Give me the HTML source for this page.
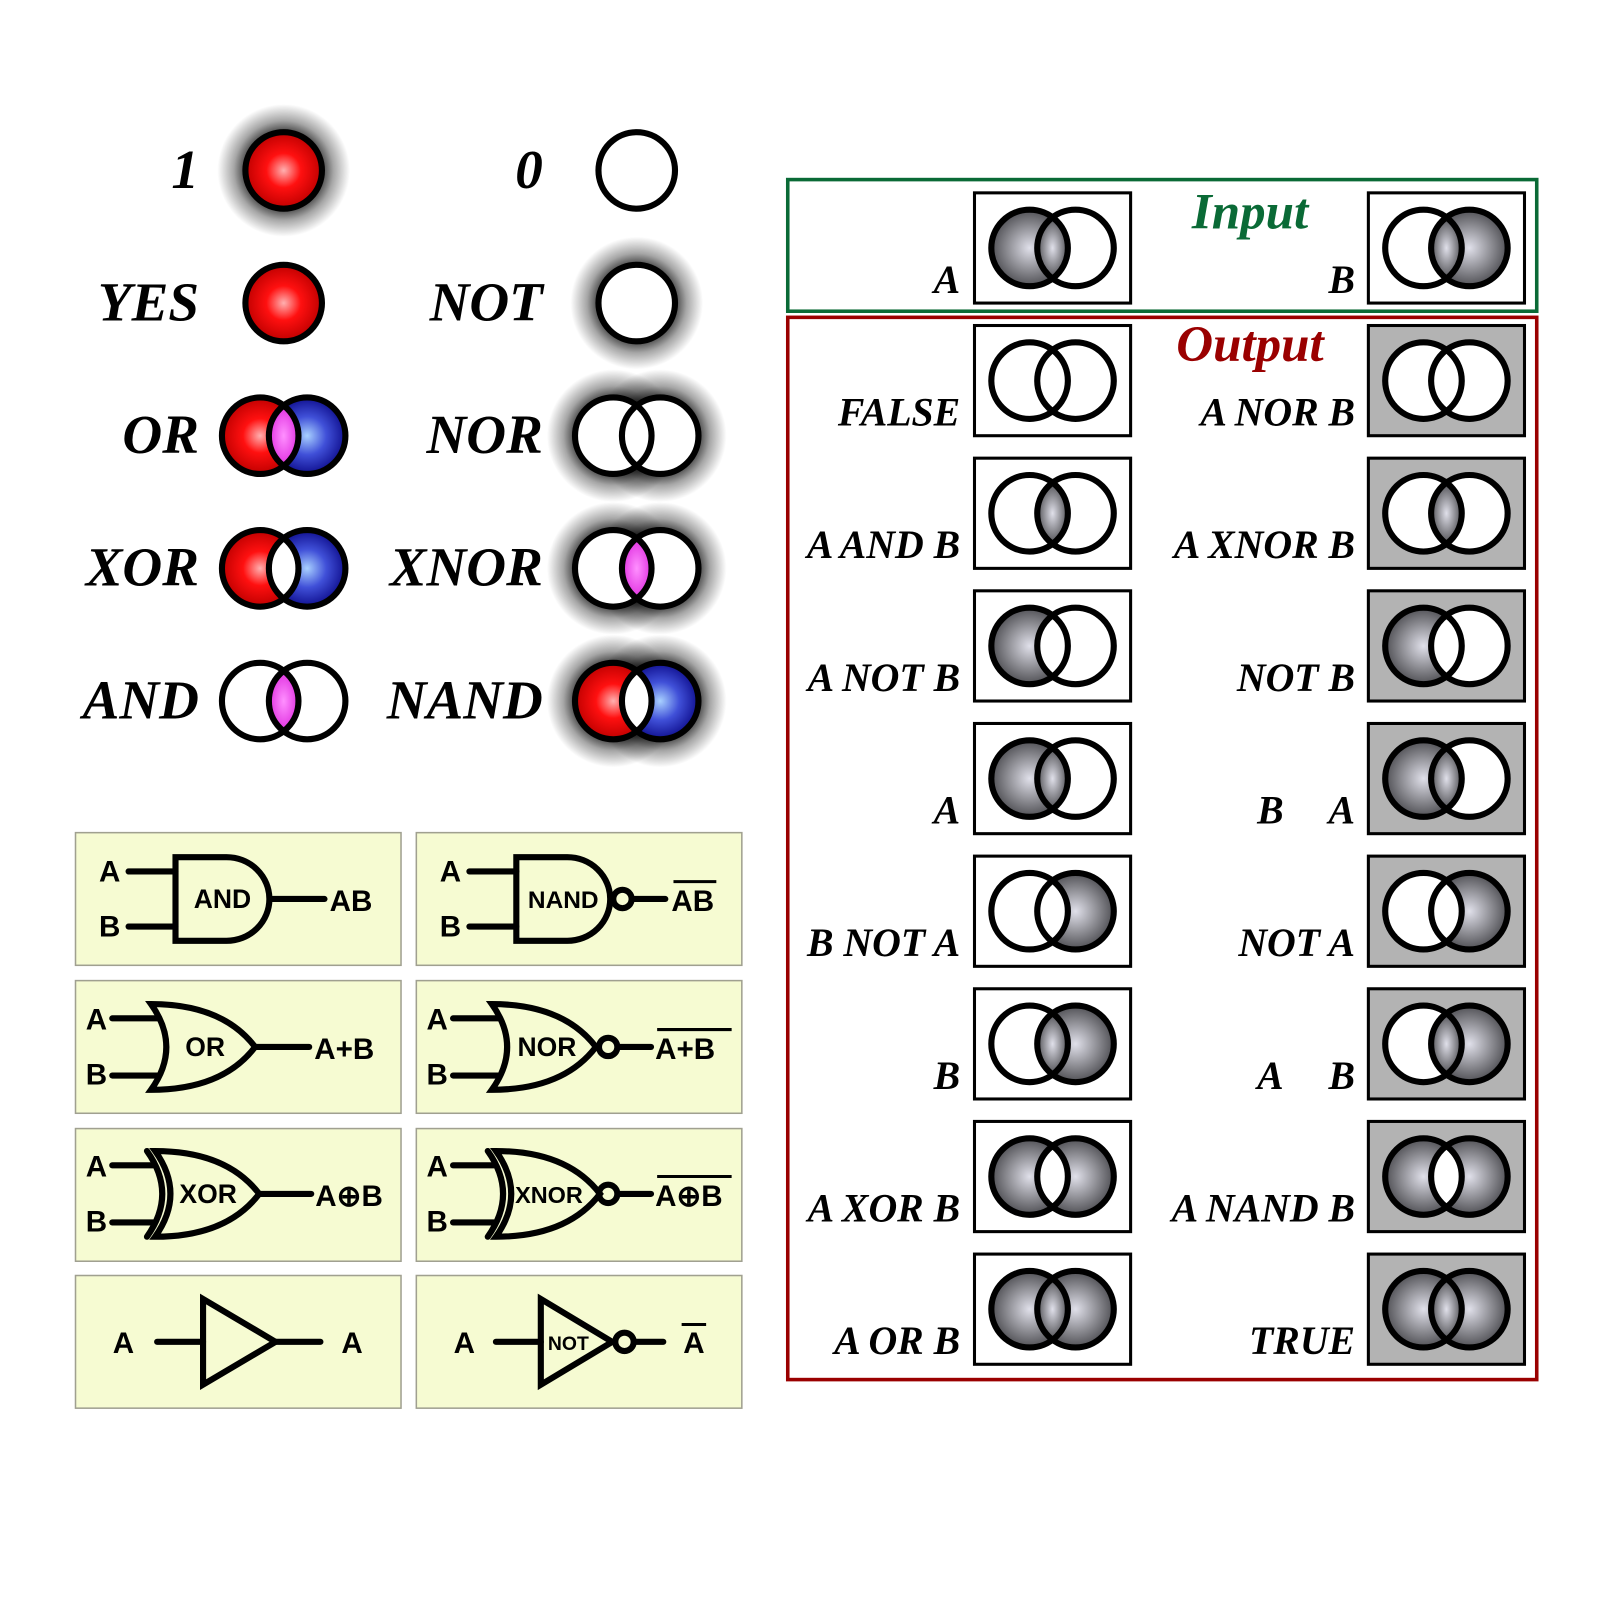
<!DOCTYPE html>
<html><head><meta charset="utf-8"><style>
html,body{margin:0;padding:0;background:#fff;}
svg{display:block;}
.lbl{font-family:"Liberation Serif",serif;font-weight:bold;font-style:italic;}
.g{font-family:"Liberation Sans",sans-serif;font-weight:bold;}
</style></head><body>
<svg id="s" xmlns="http://www.w3.org/2000/svg" width="1600" height="1600" viewBox="0 0 1568 1568">
<defs>
<radialGradient id="red" cx="0.5" cy="0.5" r="0.5"><stop offset="0" stop-color="#ffb0b0"/><stop offset="0.45" stop-color="#ff1010"/><stop offset="1" stop-color="#c00000"/></radialGradient>
<radialGradient id="blue" cx="0.5" cy="0.5" r="0.5"><stop offset="0" stop-color="#a8d0ff"/><stop offset="0.5" stop-color="#4050d8"/><stop offset="1" stop-color="#101090"/></radialGradient>
<radialGradient id="mag" cx="0.5" cy="0.5" r="0.5"><stop offset="0" stop-color="#ff90ff"/><stop offset="1" stop-color="#e030e0"/></radialGradient>
<radialGradient id="gray" cx="0.5" cy="0.5" r="0.5"><stop offset="0" stop-color="#e0e0ea"/><stop offset="0.6" stop-color="#8a8a90"/><stop offset="1" stop-color="#505055"/></radialGradient>
<radialGradient id="glow" cx="0.5" cy="0.5" r="0.5"><stop offset="0.55" stop-color="#000" stop-opacity="0.8"/><stop offset="0.75" stop-color="#000" stop-opacity="0.35"/><stop offset="1" stop-color="#000" stop-opacity="0"/></radialGradient>
</defs>
<g id="root"></g>
</svg>
<script>
var o='';
function circ(cx,cy,r,fill,sw){return '<circle cx="'+cx+'" cy="'+cy+'" r="'+r+'" fill="'+fill+'" stroke="'+(sw?'#000':'none')+'" stroke-width="'+(sw||0)+'"/>';}
function lens(c1,c2,cy,r,fill){var d=c2-c1,h=Math.sqrt(r*r-d*d/4),m=(c1+c2)/2;return '<path d="M'+m+','+(cy-h)+' A'+r+','+r+' 0 0 1 '+m+','+(cy+h)+' A'+r+','+r+' 0 0 1 '+m+','+(cy-h)+'Z" fill="'+fill+'"/>';}
function glow(cx,cy){return '<circle cx="'+cx+'" cy="'+cy+'" r="65" fill="url(#glow)"/>';}
function label(x,y,t,sz,anchor,col){return '<text class="lbl" x="'+x+'" y="'+y+'" font-size="'+sz+'" text-anchor="'+(anchor||'end')+'" fill="'+(col||'#000')+'">'+t+'</text>';}
var R=37.5,SW=6,FS=54;
var rows=[167,297,427,557,687];
o+=label(195,rows[0]+17,'1',FS);o+=glow(278,rows[0]);o+=circ(278,rows[0],R,'url(#red)',SW);
o+=label(532,rows[0]+17,'0',FS);o+=circ(624,rows[0],R,'#fff',SW);
o+=label(195,rows[1]+17,'YES',FS);o+=circ(278,rows[1],R,'url(#red)',SW);
o+=label(532,rows[1]+17,'NOT',FS);o+=glow(624,rows[1]);o+=circ(624,rows[1],R,'#fff',SW);
function pair(c1,c2,cy,fa,fb,fl,gl){var s='';if(gl){s+=glow(c1,cy)+glow(c2,cy);}s+=circ(c1,cy,R,fa,0)+circ(c2,cy,R,fb,0)+lens(c1,c2,cy,R,fl)+circ(c1,cy,R,'none',SW)+circ(c2,cy,R,'none',SW);return s;}
o+=label(195,rows[2]+17,'OR',FS);o+=pair(255,301,rows[2],'url(#red)','url(#blue)','url(#mag)');
o+=label(532,rows[2]+17,'NOR',FS);o+=pair(601,647,rows[2],'#fff','#fff','#fff',1);
o+=label(195,rows[3]+17,'XOR',FS);o+=pair(255,301,rows[3],'url(#red)','url(#blue)','#fff');
o+=label(532,rows[3]+17,'XNOR',FS);o+=pair(601,647,rows[3],'#fff','#fff','url(#mag)',1);
o+=label(195,rows[4]+17,'AND',FS);o+=pair(255,301,rows[4],'#fff','#fff','url(#mag)');
o+=label(532,rows[4]+17,'NAND',FS);o+=pair(601,647,rows[4],'url(#red)','url(#blue)','#fff',1);

o+='<rect x="772" y="176" width="734" height="129" fill="none" stroke="#0a6a36" stroke-width="3.5"/>';
o+='<rect x="772" y="311" width="734" height="1041" fill="none" stroke="#9a0000" stroke-width="3.5"/>';
o+=label(1225,224,'Input',50,'middle','#0a6a36');
o+=label(1225,354,'Output',50,'middle','#9a0000');
var G='url(#gray)';
function cell(x,y,bg,a,b,l){var cx=x+76.5,cy=y+54;var s='<rect x="'+x+'" y="'+y+'" width="153" height="108" fill="'+bg+'" stroke="#000" stroke-width="3"/>';
s+=circ(cx-22.5,cy,R,a,0)+circ(cx+22.5,cy,R,b,0)+lens(cx-22.5,cx+22.5,cy,R,l)+circ(cx-22.5,cy,R,'none',SW)+circ(cx+22.5,cy,R,'none',SW);return s;}
var W='#fff',BG='#b3b3b3';
o+=cell(955,189,W,G,W,G);o+=label(941,287,'A',39);
o+=cell(1341,189,W,W,G,G);o+=label(1328,287,'B',39);
var L=[['FALSE',W,W,W],['A AND B',W,W,G],['A NOT B',G,W,W],['A',G,W,G],['B NOT A',W,G,W],['B',W,G,G],['A XOR B',G,G,W],['A OR B',G,G,G]];
var Rr=[['A NOR B',W,W,W],['A XNOR B',W,W,G],['NOT B',G,W,W],['',G,W,G],['NOT A',W,G,W],['',W,G,G],['A NAND B',G,G,W],['TRUE',G,G,G]];
for(var i=0;i<8;i++){var y=319+130*i;
o+=cell(955,y,W,L[i][1],L[i][2],L[i][3]);o+=label(941,y+98,L[i][0],39);
o+=cell(1341,y,BG,Rr[i][1],Rr[i][2],Rr[i][3]);
if(Rr[i][0])o+=label(1328,y+98,Rr[i][0],39);}
o+=label(1258,319+390+98,'B',39);o+=label(1328,319+390+98,'A',39);
o+=label(1258,319+650+98,'A',39);o+=label(1328,319+650+98,'B',39);

var bx=[74,408],by=[816,961,1106,1250];
for(var r=0;r<4;r++)for(var c=0;c<2;c++)o+='<rect x="'+bx[c]+'" y="'+by[r]+'" width="319" height="130" fill="#f6fbd2" stroke="#a0a090" stroke-width="1.5"/>';
var st=' fill="none" stroke="#000" stroke-width="6" stroke-linecap="round" stroke-linejoin="miter"';
function gt(x,y,t,sz,anc){return '<text class="g" x="'+x+'" y="'+y+'" font-size="'+sz+'" text-anchor="'+(anc||'start')+'">'+t+'</text>';}
function bub(x,y){return '<circle cx="'+x+'" cy="'+y+'" r="9" fill="none" stroke="#000" stroke-width="6"/>';}
function andg(ox){var s='',cy=881;
s+=gt(ox+97,cy-17,'A',29)+gt(ox+97,cy+37,'B',29);
s+='<path d="M'+(ox+126)+','+(cy-27)+'H'+(ox+172)+'M'+(ox+126)+','+(cy+27)+'H'+(ox+172)+'"'+st+'/>';
s+='<path d="M'+(ox+172)+','+(cy-41)+'H'+(ox+222)+'A42,41 0 0 1 '+(ox+222)+','+(cy+41)+'H'+(ox+172)+'Z"'+st+'/>';
return s;}
o+=andg(0);o+=gt(218,890,'AND',26,'middle');
o+='<path d="M265,881H318"'+st+'/>'+gt(323,893,'AB',29);
o+=andg(334);o+=gt(552,890,'NAND',24,'middle');
o+=bub(610,881)+'<path d="M620,881H652"'+st+'/>'+gt(658,893,'AB',29)+'<path d="M660,864H702" stroke="#000" stroke-width="3"/>';
function orBody(ox,cy,x){var s='';var b=ox;
s+='<path d="M'+b+','+(cy-42)+'Q'+(b+30)+','+cy+' '+b+','+(cy+42)+'Q'+(b+70)+','+(cy+42)+' '+(b+102)+','+cy+'Q'+(b+70)+','+(cy-42)+' '+b+','+(cy-42)+'Z"'+st+'/>';
if(x)s+='<path d="M'+(b-8)+','+(cy-42)+'Q'+(b+22)+','+cy+' '+(b-8)+','+(cy+42)+'"'+st+'/>';
return s;}
function orIn(ox,cy,x1,x2){return gt(ox+84,cy-17,'A',29)+gt(ox+84,cy+37,'B',29)+'<path d="M'+(ox+110)+','+(cy-28)+'H'+x2+'M'+(ox+110)+','+(cy+28)+'H'+x2+'"'+st+'/>';}
o+=orIn(0,1026,0,155)+orBody(148,1026)+gt(201,1035,'OR',26,'middle')+'<path d="M250,1026H303"'+st+'/>'+gt(308,1038,'A+B',29);
o+=orIn(334,1026,0,488)+orBody(482,1026)+gt(536,1035,'NOR',26,'middle')+bub(596,1026)+'<path d="M606,1026H638"'+st+'/>'+gt(642,1038,'A+B',29)+'<path d="M644,1009H717" stroke="#000" stroke-width="3"/>';
o+=orIn(0,1170,0,150)+orBody(152,1170,1)+gt(204,1179,'XOR',26,'middle')+'<path d="M254,1170H305"'+st+'/>'+gt(309,1182,'A⊕B',29);
o+=orIn(334,1170,0,484)+orBody(486,1170,1)+gt(538,1179,'XNOR',23,'middle')+bub(596,1170)+'<path d="M606,1170H638"'+st+'/>'+gt(642,1182,'A⊕B',29)+'<path d="M644,1153H717" stroke="#000" stroke-width="3"/>';
o+=gt(121,1326,'A',29,'middle')+'<path d="M154,1315H199M270,1315H314"'+st+'/>'+'<path d="M199,1273L270,1315L199,1357Z"'+st+'/>'+gt(345,1326,'A',29,'middle');
o+=gt(455,1326,'A',29,'middle')+'<path d="M486,1315H530M622,1315H650"'+st+'/>'+'<path d="M530,1273L600,1315L530,1357Z"'+st+'/>'+gt(557,1323,'NOT',19,'middle')+bub(612,1315)+gt(680,1326,'A',29,'middle')+'<path d="M668,1298H692" stroke="#000" stroke-width="3"/>';
document.getElementById('root').innerHTML=o;
</script>
</body></html>
